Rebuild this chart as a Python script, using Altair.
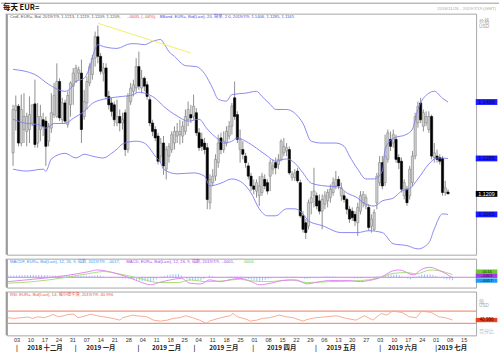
import json
import altair as alt
import pandas as pd

FONT = "Liberation Sans, Noto Sans CJK SC, sans-serif"
CJK = "Noto Sans CJK SC, Liberation Sans, sans-serif"

# ---------------- data ----------------
# trading-day index (0 = 2018-11-26, Mondays at 5, 10, 15 ...)
day_index = list(range(2, 162))
open_ = [1.1297, 1.1388, 1.1397, 1.1318, 1.1347, 1.1343, 1.1347, 1.1361, 1.1402, 1.1318,
         1.1347, 1.1368, 1.1365, 1.1322, 1.1350, 1.1379, 1.1375, 1.1450, 1.1368, 1.1404,
         1.1358, 1.1400, 1.1440, 1.1450, 1.1468, 1.1468, 1.1375, 1.1404, 1.1447, 1.1465,
         1.1500, 1.1546, 1.1504, 1.1468, 1.1479, 1.1418, 1.1404, 1.1400, 1.1361, 1.1375,
         1.1361, 1.1383, 1.1304, 1.1407, 1.1429, 1.1436, 1.1482, 1.1436, 1.1457, 1.1443,
         1.1411, 1.1361, 1.1347, 1.1333, 1.1290, 1.1318, 1.1262, 1.1290, 1.1304, 1.1318,
         1.1333, 1.1336, 1.1333, 1.1343, 1.1368, 1.1379, 1.1375, 1.1383, 1.1340, 1.1326,
         1.1318, 1.1308, 1.1190, 1.1233, 1.1247, 1.1276, 1.1329, 1.1304, 1.1318, 1.1333,
         1.1354, 1.1415, 1.1379, 1.1304, 1.1304, 1.1290, 1.1269, 1.1247, 1.1226, 1.1215,
         1.1205, 1.1212, 1.1240, 1.1233, 1.1247, 1.1262, 1.1276, 1.1272, 1.1283, 1.1297,
         1.1301, 1.1304, 1.1244, 1.1244, 1.1258, 1.1233, 1.1162, 1.1147, 1.1140, 1.1190,
         1.1205, 1.1205, 1.1194, 1.1172, 1.1187, 1.1194, 1.1201, 1.1212, 1.1226, 1.1240,
         1.1205, 1.1205, 1.1197, 1.1176, 1.1172, 1.1165, 1.1147, 1.1172, 1.1190, 1.1183,
         1.1180, 1.1140, 1.1133, 1.1190, 1.1233, 1.1276, 1.1233, 1.1283, 1.1326, 1.1318,
         1.1326, 1.1287, 1.1279, 1.1205, 1.1219, 1.1205, 1.1233, 1.1290, 1.1361, 1.1404,
         1.1354, 1.1361, 1.1347, 1.1375, 1.1287, 1.1290, 1.1287, 1.1285, 1.1212, 1.1213]
high = [1.1400, 1.1420, 1.1402, 1.1422, 1.1425, 1.1383, 1.1418, 1.1400, 1.1454, 1.1404,
        1.1400, 1.1383, 1.1375, 1.1361, 1.1425, 1.1447, 1.1489, 1.1457, 1.1415, 1.1411,
        1.1429, 1.1450, 1.1479, 1.1486, 1.1482, 1.1497, 1.1432, 1.1461, 1.1489, 1.1507,
        1.1557, 1.1570, 1.1511, 1.1490, 1.1489, 1.1430, 1.1415, 1.1407, 1.1411, 1.1390,
        1.1383, 1.1390, 1.1425, 1.1447, 1.1454, 1.1500, 1.1514, 1.1475, 1.1461, 1.1450,
        1.1418, 1.1368, 1.1354, 1.1340, 1.1329, 1.1333, 1.1311, 1.1318, 1.1343, 1.1354,
        1.1361, 1.1368, 1.1365, 1.1390, 1.1407, 1.1400, 1.1422, 1.1393, 1.1350, 1.1340,
        1.1329, 1.1318, 1.1251, 1.1262, 1.1294, 1.1336, 1.1340, 1.1343, 1.1354, 1.1365,
        1.1404, 1.1450, 1.1386, 1.1347, 1.1322, 1.1297, 1.1276, 1.1254, 1.1240, 1.1240,
        1.1247, 1.1254, 1.1251, 1.1240, 1.1283, 1.1283, 1.1287, 1.1294, 1.1326, 1.1329,
        1.1318, 1.1311, 1.1258, 1.1262, 1.1265, 1.1240, 1.1172, 1.1155, 1.1197, 1.1215,
        1.1265, 1.1212, 1.1208, 1.1208, 1.1215, 1.1219, 1.1229, 1.1244, 1.1258, 1.1247,
        1.1233, 1.1215, 1.1201, 1.1183, 1.1180, 1.1172, 1.1190, 1.1215, 1.1215, 1.1208,
        1.1187, 1.1165, 1.1176, 1.1254, 1.1290, 1.1290, 1.1336, 1.1347, 1.1343, 1.1347,
        1.1336, 1.1294, 1.1287, 1.1240, 1.1226, 1.1269, 1.1301, 1.1383, 1.1407, 1.1415,
        1.1390, 1.1386, 1.1386, 1.1379, 1.1318, 1.1304, 1.1294, 1.1290, 1.1237, 1.1219]
low = [1.1269, 1.1345, 1.1311, 1.1311, 1.1318, 1.1311, 1.1318, 1.1354, 1.1308, 1.1308,
       1.1322, 1.1333, 1.1269, 1.1311, 1.1340, 1.1372, 1.1372, 1.1365, 1.1361, 1.1361,
       1.1351, 1.1375, 1.1400, 1.1447, 1.1454, 1.1318, 1.1368, 1.1390, 1.1440, 1.1454,
       1.1482, 1.1489, 1.1465, 1.1450, 1.1411, 1.1390, 1.1375, 1.1354, 1.1354, 1.1343,
       1.1347, 1.1290, 1.1297, 1.1400, 1.1418, 1.1425, 1.1432, 1.1425, 1.1429, 1.1411,
       1.1354, 1.1333, 1.1322, 1.1272, 1.1276, 1.1250, 1.1240, 1.1276, 1.1297, 1.1304,
       1.1318, 1.1315, 1.1318, 1.1336, 1.1354, 1.1361, 1.1368, 1.1333, 1.1301, 1.1301,
       1.1294, 1.1176, 1.1176, 1.1226, 1.1237, 1.1265, 1.1294, 1.1297, 1.1311, 1.1326,
       1.1336, 1.1368, 1.1318, 1.1276, 1.1283, 1.1265, 1.1240, 1.1215, 1.1208, 1.1201,
       1.1183, 1.1205, 1.1219, 1.1208, 1.1215, 1.1251, 1.1251, 1.1262, 1.1279, 1.1290,
       1.1290, 1.1250, 1.1237, 1.1237, 1.1233, 1.1158, 1.1126, 1.1112, 1.1133, 1.1165,
       1.1180, 1.1176, 1.1165, 1.1133, 1.1176, 1.1180, 1.1190, 1.1205, 1.1219, 1.1219,
       1.1194, 1.1190, 1.1165, 1.1147, 1.1151, 1.1140, 1.1119, 1.1165, 1.1180, 1.1176,
       1.1130, 1.1126, 1.1130, 1.1176, 1.1226, 1.1219, 1.1226, 1.1276, 1.1301, 1.1308,
       1.1276, 1.1262, 1.1212, 1.1197, 1.1183, 1.1197, 1.1226, 1.1283, 1.1351, 1.1361,
       1.1343, 1.1354, 1.1340, 1.1283, 1.1276, 1.1276, 1.1272, 1.1205, 1.1205, 1.1209]
close = [1.1390, 1.1398, 1.1318, 1.1390, 1.1375, 1.1375, 1.1379, 1.1400, 1.1315, 1.1375,
         1.1375, 1.1354, 1.1311, 1.1354, 1.1383, 1.1420, 1.1450, 1.1372, 1.1404, 1.1365,
         1.1420, 1.1447, 1.1468, 1.1479, 1.1475, 1.1347, 1.1407, 1.1450, 1.1482, 1.1500,
         1.1546, 1.1504, 1.1472, 1.1479, 1.1418, 1.1400, 1.1386, 1.1368, 1.1375, 1.1361,
         1.1368, 1.1304, 1.1418, 1.1436, 1.1443, 1.1482, 1.1440, 1.1457, 1.1440, 1.1418,
         1.1361, 1.1343, 1.1329, 1.1279, 1.1318, 1.1269, 1.1304, 1.1311, 1.1336, 1.1343,
         1.1343, 1.1343, 1.1354, 1.1375, 1.1390, 1.1372, 1.1397, 1.1340, 1.1308, 1.1311,
         1.1304, 1.1197, 1.1240, 1.1247, 1.1283, 1.1318, 1.1304, 1.1322, 1.1343, 1.1354,
         1.1397, 1.1375, 1.1326, 1.1326, 1.1294, 1.1276, 1.1247, 1.1226, 1.1219, 1.1233,
         1.1226, 1.1247, 1.1226, 1.1215, 1.1276, 1.1269, 1.1265, 1.1283, 1.1322, 1.1311,
         1.1308, 1.1254, 1.1251, 1.1254, 1.1237, 1.1162, 1.1133, 1.1126, 1.1190, 1.1201,
         1.1215, 1.1183, 1.1172, 1.1197, 1.1205, 1.1212, 1.1219, 1.1233, 1.1240, 1.1226,
         1.1222, 1.1197, 1.1176, 1.1155, 1.1158, 1.1151, 1.1180, 1.1205, 1.1208, 1.1201,
         1.1137, 1.1155, 1.1169, 1.1247, 1.1276, 1.1226, 1.1290, 1.1340, 1.1311, 1.1336,
         1.1283, 1.1276, 1.1219, 1.1233, 1.1190, 1.1262, 1.1290, 1.1375, 1.1397, 1.1368,
         1.1383, 1.1375, 1.1375, 1.1290, 1.1297, 1.1283, 1.1279, 1.1212, 1.1222, 1.1209]

# Bollinger bands (20, 2.0)
bb_up_i = [2, 10, 15, 21, 23, 25, 28, 30, 32, 33, 35, 40, 45, 47, 50, 53, 56, 57, 59, 61,
           65, 69, 72, 75, 77, 80, 82, 87, 91, 93, 96, 98, 102, 105, 108, 111, 115, 120,
           123, 125, 128, 131, 134, 137, 138, 141, 146, 148, 150, 154, 156, 159, 161]
bb_up_v = [1.1476, 1.1465, 1.1444, 1.1429, 1.1435, 1.1450, 1.1457, 1.1480, 1.1520, 1.1529,
           1.1525, 1.1521, 1.1531, 1.1531, 1.1529, 1.1536, 1.1540, 1.1533, 1.1514, 1.1504,
           1.1484, 1.1482, 1.1467, 1.1435, 1.1412, 1.1408, 1.1422, 1.1425, 1.1429, 1.1418,
           1.1401, 1.1390, 1.1390, 1.1382, 1.1360, 1.1322, 1.1318, 1.1318, 1.1311, 1.1290,
           1.1262, 1.1241, 1.1241, 1.1258, 1.1305, 1.1328, 1.1337, 1.1348, 1.1390, 1.1425,
           1.1429, 1.1414, 1.1406]
bb_mid_i = [2, 7, 11, 14, 17, 21, 24, 28, 31, 35, 39, 42, 46, 48, 50, 54, 57, 62, 66, 70,
            73, 77, 79, 82, 84, 87, 91, 95, 98, 102, 105, 108, 111, 116, 121, 124, 128,
            130, 134, 137, 141, 144, 147, 150, 154, 157, 161]
bb_mid_v = [1.1369, 1.1360, 1.1358, 1.1350, 1.1360, 1.1360, 1.1371, 1.1386, 1.1403, 1.1412,
            1.1416, 1.1418, 1.1422, 1.1427, 1.1425, 1.1414, 1.1397, 1.1376, 1.1365, 1.1369,
            1.1348, 1.1326, 1.1318, 1.1322, 1.1329, 1.1322, 1.1307, 1.1290, 1.1279, 1.1284,
            1.1275, 1.1254, 1.1232, 1.1226, 1.1224, 1.1211, 1.1200, 1.1190, 1.1183, 1.1194,
            1.1200, 1.1215, 1.1220, 1.1241, 1.1273, 1.1286, 1.1285]
bb_lo_i = [2, 7, 13, 14, 16, 21, 25, 28, 31, 35, 38, 40, 42, 47, 50, 54, 56, 57, 62, 68,
           72, 74, 78, 82, 86, 89, 92, 95, 98, 102, 105, 108, 110, 115, 122, 128, 132, 137,
           141, 146, 150, 154, 156, 159, 161]
bb_lo_v = [1.1262, 1.1258, 1.1262, 1.1258, 1.1284, 1.1296, 1.1286, 1.1294, 1.1290, 1.1286,
           1.1296, 1.1305, 1.1316, 1.1322, 1.1318, 1.1290, 1.1275, 1.1262, 1.1252, 1.1254,
           1.1247, 1.1226, 1.1232, 1.1241, 1.1232, 1.1211, 1.1177, 1.1162, 1.1162, 1.1177,
           1.1177, 1.1166, 1.1151, 1.1141, 1.1126, 1.1126, 1.1130, 1.1126, 1.1102, 1.1098,
           1.1091, 1.1104, 1.1134, 1.1166, 1.1165]

trend_i = [33, 67]
trend_v = [1.1575, 1.1511]

# MACD (12, 26, 9)
macd_i = [2, 11, 20, 27, 31, 34, 38, 42, 46, 49, 53, 56, 60, 64, 67, 71, 74, 78, 81, 85,
          89, 92, 96, 100, 105, 109, 112, 117, 121, 124, 128, 131, 136, 139, 142, 147,
          150, 153, 156, 160, 161]
macd_v = [-0.0025, -0.0011, 0.0004, 0.0021, 0.0033, 0.0042, 0.0033, 0.0015, -0.0006, -0.0025,
          -0.0043, -0.0030, -0.0015, -0.0006, -0.0034, -0.0038, -0.0015, -0.0025, -0.0015, -0.0006,
          -0.0025, -0.0043, -0.0034, -0.0019, -0.0015, -0.0038, -0.0030, -0.0019, -0.0019, -0.0019,
          -0.0025, -0.0019, 0.0004, 0.0033, 0.0042, 0.0014, 0.0046, 0.0057, 0.0042, 0.0008, -0.0001]
sig_i = [2, 11, 23, 33, 36, 42, 49, 56, 63, 67, 73, 80, 85, 88, 95, 103, 109, 117, 128,
         134, 140, 145, 148, 153, 156, 161]
sig_v = [-0.0034, -0.0025, 0.0000, 0.0027, 0.0033, 0.0019, -0.0006, -0.0030, -0.0030, -0.0015,
         -0.0025, -0.0019, -0.0011, -0.0019, -0.0025, -0.0015, -0.0030, -0.0025, -0.0019, -0.0006,
         0.0023, 0.0027, 0.0019, 0.0042, 0.0038, 0.0016]
# MACD histogram, one bar per day (units of 0.0001)
hist_e4 = [9, 10, 10, 11, 12, 12, 13, 13, 14, 14,
           14, 13, 13, 12, 12, 11, 11, 10, 10,
           10, 9, 9, 9, 9, 9, 9, 9, 9, 9,
           9, 10, 11, 12, 9, 5,
           0, -1, -2, -3, -3, -4,
           -6, -8, -10, -11, -14, -17, -19,
           -21, -23, -24, -25, -20, -12, 0,
           4, 8, 12, 15, 17, 18, 19,
           10, 0, -10, -19, -19, -18, -18,
           -18, -10, 0, 10, 6, 2, -3,
           -3, 0, 2, 4, 4, 5, 5,
           5, 0, -6, -10, -14, -18, -21,
           -21, -18, -14, -9, -6, -3, 0,
           1, 2, 2, 3, 3, 3, 3,
           0, -4, -8, -8, -6, -4, -2,
           0, 2, 4, 6, 5, 4, 3,
           2, 1, 1, 0, -2, -4, -6,
           -6, -6, -5, -4, -2, 0, 4,
           6, 8, 10, 12, 13, 15, 16,
           17, 12, 5, -2, -8, -11, -4,
           4, 10, 16, 17, 17, 17, 14,
           8, 2, -2, -8, -12, -14, -17]

# RSI (14)
rsi_i = [2, 4, 6.5, 9, 11, 12.5, 15, 17, 18, 20, 22, 23.5, 25.5, 27, 28.5, 30.5, 31.5, 34,
         36, 39.5, 42, 43, 46.5, 48, 51.5, 54, 56.5, 59, 61, 63.5, 65.5, 68, 70.5, 73, 74,
         78, 81.5, 82.5, 84, 87.5, 88.5, 91, 93, 95.5, 99, 101.5, 104, 107.5, 109, 112, 116,
         119.5, 123, 126.5, 129.5, 132.5, 135.5, 137.5, 139.5, 143, 145.5, 148, 150, 153.5,
         156, 158.5, 161]
rsi_v = [48.5, 46.3, 48.5, 50.5, 46.3, 51.8, 48.5, 55, 59.3, 51.8, 55, 59.3, 60.2, 48.5, 51.8,
         57, 60.2, 55, 51.8, 46.3, 40.7, 48.5, 57, 55, 51.8, 40.7, 37.5, 40.7, 46.3, 48.5,
         55, 48.5, 40.7, 30, 37.5, 48.5, 55, 62.5, 51.8, 43, 37.5, 40.7, 46.3, 48.5, 57,
         51.8, 48.5, 37.5, 43, 48.5, 51.8, 55, 46.3, 40.7, 55, 40.7, 62.5, 57, 70, 65.8,
         51.8, 48.5, 70, 65.8, 51.8, 48.5, 41.0]
rsi_levels = [70, 30]

price_ticks = [1.110, 1.113, 1.116, 1.119, 1.122, 1.125, 1.128, 1.131, 1.134, 1.137,
               1.140, 1.143, 1.146, 1.149, 1.152, 1.155]
week_ticks = list(range(5, 166, 5))
week_labels = ["03", "10", "17", "24", "31", "07", "14", "21", "28", "04", "11", "18", "25",
               "04", "11", "18", "25", "01", "08", "15", "22", "29", "06", "13", "20", "27",
               "03", "10", "17", "24", "01", "08", "15"]
month_sep = [5, 26, 48.5, 68.5, 89.5, 112, 135, 155]
month_mid = [15, 35, 58.5, 79, 99.7, 121, 143, 160.8]
month_names = ["2018 十二月", "2019 一月", "2019 二月", "2019 三月", "2019 四月",
               "2019 五月", "2019 六月", "2019 七月"]

# ---------------- frames ----------------
candles = pd.DataFrame({"i": day_index, "o": open_, "h": high, "l": low, "c": close})
bands = pd.concat([
    pd.DataFrame({"i": bb_up_i, "v": bb_up_v, "b": "upper"}),
    pd.DataFrame({"i": bb_mid_i, "v": bb_mid_v, "b": "mid"}),
    pd.DataFrame({"i": bb_lo_i, "v": bb_lo_v, "b": "lower"}),
])
trend = pd.DataFrame({"i": trend_i, "v": trend_v})
macd_df = pd.DataFrame({"i": macd_i, "v": macd_v})
sig_df = pd.DataFrame({"i": sig_i, "v": sig_v})
hist_df = pd.DataFrame({"i": day_index, "v": [h / 10000 for h in hist_e4]})
rsi_df = pd.DataFrame({"i": rsi_i, "v": rsi_v})

W = 471
XS = alt.Scale(domain=[1.6, 169.45], nice=False, zero=False)
YP = alt.Scale(domain=[1.10786, 1.15955], nice=False, zero=False)
YM = alt.Scale(domain=[-0.00589, 0.01069], nice=False, zero=False)
YR = alt.Scale(domain=[-9, 134], nice=False, zero=False)
LEG = 4.2
EDGE = "#9c9c9c"


def X(axis=None):
    return alt.X("i:Q", scale=XS, axis=axis)


def txt(s, x, y, size, color, align="left", weight="normal", font=FONT):
    return alt.Chart(pd.DataFrame({"t": [s]})).mark_text(
        align=align, baseline="middle", fontSize=size, color=color,
        fontWeight=weight, font=font).encode(x=alt.value(x), y=alt.value(y), text="t:N")


def vline(y0, y1):
    return alt.Chart(pd.DataFrame({"a": [0]})).mark_rule(color=EDGE, strokeWidth=1.6).encode(
        x=alt.value(-0.5), y=alt.value(y0), y2=alt.value(y1))


def box_path(half_h):
    return f"M-1,-{half_h}L1,-{half_h}L1,{half_h}L-1,{half_h}Z"


def vbox(v, s, yscale, bg, fg, yoff=0.0, half_h=0.27, fs=5.4):
    df = pd.DataFrame({"v": [v], "t": [s]})
    base = alt.Chart(df).encode(x=alt.value(481.5), y=alt.Y("v:Q", scale=yscale, axis=None))
    b = base.mark_point(shape=box_path(half_h), filled=True, size=470, color=bg, opacity=1,
                        strokeWidth=0, yOffset=yoff)
    t = base.mark_text(fontSize=fs, color=fg, font=FONT, baseline="middle",
                       align="center", yOffset=yoff).encode(text="t:N")
    return [b, t]


price_axis = alt.Axis(orient="right", values=price_ticks, format=".3~f", tickSize=2,
                      tickColor="#666", tickWidth=0.8, domain=False, grid=False, title=None,
                      labelFontSize=5.6, labelColor="#333", labelPadding=1.5,
                      labelOverlap=False, labelFont=FONT)

up = "datum.c >= datum.o"
wick = alt.Chart(candles).mark_rule(color="#8f8f8f", strokeWidth=1).encode(
    x=X(), y=alt.Y("l:Q", scale=YP, axis=price_axis), y2="h:Q")
body = alt.Chart(candles).mark_bar(width=2.2, strokeWidth=0.6).encode(
    x=X(), y=alt.Y("o:Q", scale=YP, axis=None), y2="c:Q",
    fill=alt.condition(up, alt.value("#d2d2d2"), alt.value("#000000")),
    stroke=alt.condition(up, alt.value("#858585"), alt.value("#000000")))
band_lines = alt.Chart(bands).mark_line(color="#7c7cf2", strokeWidth=0.9,
                                        interpolate="monotone").encode(
    x=X(), y=alt.Y("v:Q", scale=YP, axis=None), detail="b:N")
trend_line = alt.Chart(trend).mark_line(color="#f2ee6a", strokeWidth=1).encode(
    x=X(), y=alt.Y("v:Q", scale=YP, axis=None))

main_layers = [
    alt.Chart(pd.DataFrame({"a": [0]})).mark_rule(color="#9a9a9a", strokeWidth=1).encode(
        x=alt.value(-6), x2=alt.value(494), y=alt.value(-10.5)),
    vline(0, 242),
    wick, body, band_lines, trend_line,
    txt("每天 EUR=", -4, -5.5, 7.5, "#111", weight="bold", font=CJK),
    txt("2018/11/26 - 2019/7/19 (GMT)", 491, -5, 4.4, "#aaaaaa", align="right"),
    txt("Cndl, EUR=, Bid, 2019/7/9, 1.1213, 1.1219, 1.1209, 1.1209,", 3, 3, LEG, "#555"),
    txt("-.0005, (-.04%),", 120.7, 3, LEG, "#f03a2a"),
    txt("BBand, EUR=, Bid(Last), 20, 简单, 2.0, 2019/7/9, 1.1406, 1.1285, 1.1165",
        153.3, 3, LEG, "#4b4bf5"),
    txt("价格", 474, 7.5, 5.2, "#a0a0a0", font=CJK),
    txt("USD", 474, 13.5, 4.8, "#a0a0a0"),
]
main_layers += vbox(1.1406, "1.1406", YP, "#1a1aff", "#0a0a40")
main_layers += vbox(1.1285, "1.1285", YP, "#1a1aff", "#0a0a40")
main_layers += vbox(1.1209, "1.1209", YP, "#000000", "#ffffff")
main_layers += vbox(1.1165, "1.1165", YP, "#1a1aff", "#0a0a40")
main = alt.layer(*main_layers).properties(width=W, height=242)

# MACD panel
zero = alt.Chart(pd.DataFrame({"v": [0]})).mark_rule(color="#dc78ee", strokeWidth=1).encode(
    y=alt.Y("v:Q", scale=YM, axis=None))
hist = alt.Chart(hist_df).mark_rule(color="#86c4f4", strokeWidth=0.9).encode(
    x=X(), y=alt.Y("v:Q", scale=YM, axis=None), y2=alt.datum(0))
macd_line = alt.Chart(macd_df).mark_line(color="#e486f2", strokeWidth=1,
                                         interpolate="monotone").encode(
    x=X(), y=alt.Y("v:Q", scale=YM, axis=None))
sig_line = alt.Chart(sig_df).mark_line(color="#a8df76", strokeWidth=1,
                                       interpolate="monotone").encode(
    x=X(), y=alt.Y("v:Q", scale=YM, axis=None))
macd_layers = [
    vline(0, 29),
    hist, zero, sig_line, macd_line,
    txt("MACDF, EUR=, Bid(Last), 12, 26, 9, 指数, 2019/7/9, -.0017,", 3, 3, LEG, "#3d97e6"),
    txt("MACD, EUR=, Bid(Last), 12, 26, 9, 指数, 2019/7/9, -.0001,", 119.7, 3, LEG, "#a64ce0"),
    txt(".0016", 237, 3, LEG, "#6fc02c"),
]
macd_layers += vbox(0.0016, ".0016", YM, "#6cc82e", "#1d3d08", yoff=-2.9, half_h=0.2, fs=4.3)
macd_layers += vbox(-0.0001, "-.0001", YM, "#a63ae6", "#200530", yoff=-1.7, half_h=0.2, fs=4.3)
macd_layers += vbox(-0.0017, "-.0017", YM, "#1e9af0", "#06223a", yoff=0.3, half_h=0.2, fs=4.3)
macd_chart = alt.layer(*macd_layers).properties(width=W, height=29)

# RSI panel
week_js = json.dumps(week_labels)
month_vals = month_sep + month_mid
month_text = ["|"] * len(month_sep) + month_names
day_axis = alt.Axis(orient="bottom", values=week_ticks,
                    labelExpr=f"{week_js}[round((datum.value-5)/5)]",
                    ticks=False, domain=False, grid=False, title=None, labelFontSize=5.6,
                    labelColor="#333", labelPadding=2.5, labelOverlap=False,
                    labelFlush=False, labelFont=FONT)
month_axis = alt.Axis(orient="bottom", values=month_vals,
                      labelExpr=f"{json.dumps(month_text, ensure_ascii=False)}"
                                f"[indexof({json.dumps(month_vals)}, datum.value)]",
                      ticks=False, domain=False, grid=False, title=None, labelFontSize=6.4,
                      labelFontWeight="bold", labelColor="#222", labelPadding=2, offset=7.5,
                      labelOverlap=False, labelFlush=False, labelFont=CJK)
rsi_axis = alt.Axis(orient="right", values=[40, 60], format="d", tickSize=2,
                    tickColor="#888", domain=False, grid=False, title=None,
                    labelFontSize=5.2, labelColor="#999", labelPadding=1.5, labelFont=FONT)
levels = alt.Chart(pd.DataFrame({"v": rsi_levels})).mark_rule(
    color="#f3957f", strokeWidth=1.3).encode(y=alt.Y("v:Q", scale=YR, axis=rsi_axis))
rsi_line = alt.Chart(rsi_df).mark_line(color="#f6a38e", strokeWidth=0.9).encode(
    x=X(day_axis), y=alt.Y("v:Q", scale=YR, axis=None))
month_holder = alt.Chart(pd.DataFrame({"i": month_vals})).mark_point(opacity=0).encode(
    x=X(month_axis), y=alt.value(20))
rsi_layers = [
    vline(0, 44),
    levels, rsi_line, month_holder,
    txt("RSI, EUR=, Bid(Last), 14, 威尔德平滑, 2019/7/9, 40.996", 3, 3, LEG, "#f0553a"),
    txt("值", 474, 10, 5.0, "#a8a8a8", font=CJK),
    txt("USD", 474, 15, 4.6, "#a8a8a8"),
    txt("百分比", 474, 40, 5.0, "#b8b8b8", font=CJK),
]
rsi_layers += vbox(40.996, "40.996", YR, "#f0401c", "#3a0800", half_h=0.2, fs=4.6)
rsi_chart = alt.layer(*rsi_layers).resolve_axis(x="independent").properties(width=W, height=44)

chart = alt.vconcat(main, macd_chart, rsi_chart, spacing=0).properties(
    padding={"left": 0, "top": 1, "right": 0, "bottom": 0},
    background="white",
).configure_view(stroke="#a6a6a6", strokeWidth=1)

chart.save("out.html", embed_options={"renderer": "svg", "actions": False})
